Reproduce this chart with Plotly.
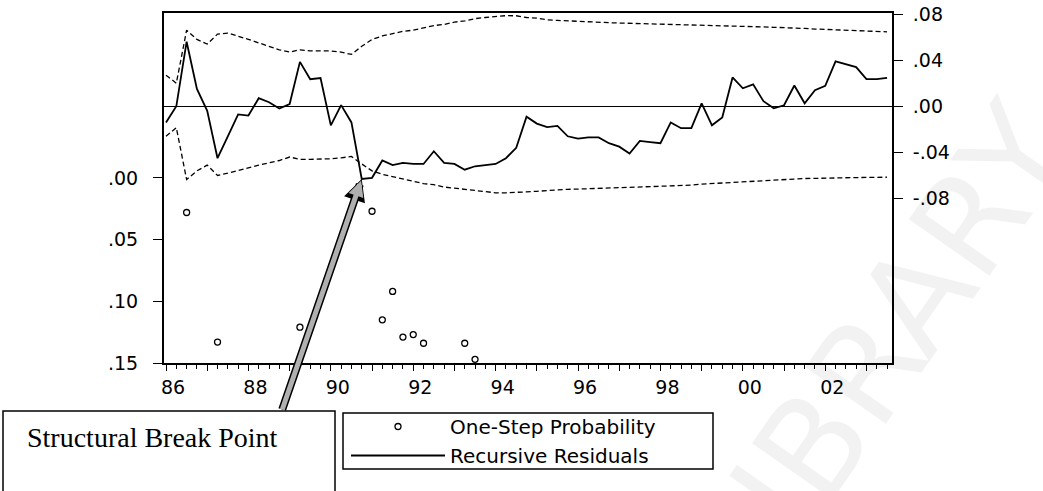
import plotly.graph_objects as go

# ---------------- data ----------------
n_obs = 71
quarters = [1986 + 0.25 * k for k in range(n_obs)]   # 1986Q1 ... 2003Q3

recursive_residuals = [
    -0.014, 0.000, 0.056, 0.015, -0.004, -0.045, -0.026, -0.007, -0.008, 0.007,
    0.0035, -0.002, 0.002, 0.0385, 0.0235, 0.0245, -0.0165, 0.001, -0.014, -0.063,
    -0.062, -0.047, -0.051, -0.049, -0.050, -0.050, -0.039, -0.049, -0.050, -0.055,
    -0.052, -0.051, -0.050, -0.045, -0.036, -0.009, -0.015, -0.018, -0.017, -0.026,
    -0.028, -0.027, -0.027, -0.032, -0.035, -0.041, -0.030, -0.031, -0.032, -0.014,
    -0.019, -0.019, 0.0026, -0.0165, -0.0096, 0.025, 0.0156, 0.019, 0.0044, -0.0017,
    0.0009, 0.018, 0.0026, 0.014, 0.0177, 0.039, 0.0365, 0.034, 0.0235, 0.0235, 0.0246,
]

upper_band = [
    0.027, 0.020, 0.066, 0.058, 0.054, 0.0626, 0.0635, 0.061, 0.058, 0.055,
    0.052, 0.049, 0.047, 0.049, 0.048, 0.048, 0.048, 0.047, 0.045, 0.052,
    0.058, 0.061, 0.063, 0.065, 0.066, 0.068, 0.070, 0.071, 0.073, 0.074,
    0.076, 0.077, 0.078, 0.0786, 0.0785, 0.077, 0.0765, 0.075, 0.0745, 0.074,
    0.0735, 0.073, 0.0728, 0.0725, 0.0722, 0.072, 0.0718, 0.0715, 0.0713, 0.071,
    0.0708, 0.0707, 0.0705, 0.0703, 0.070, 0.0698, 0.0695, 0.069, 0.0688, 0.0685,
    0.0683, 0.068, 0.0675, 0.067, 0.0667, 0.0664, 0.066, 0.0655, 0.065, 0.0648, 0.0646,
]

lower_band = [
    -0.026, -0.0185, -0.0635, -0.056, -0.051, -0.060, -0.058, -0.0555, -0.053, -0.051,
    -0.049, -0.047, -0.044, -0.046, -0.046, -0.046, -0.0455, -0.0447, -0.0435, -0.050,
    -0.056, -0.059, -0.061, -0.063, -0.065, -0.067, -0.068, -0.070, -0.071, -0.072,
    -0.073, -0.074, -0.075, -0.075, -0.0748, -0.0742, -0.0737, -0.073, -0.0725, -0.072,
    -0.0718, -0.0715, -0.0712, -0.071, -0.0707, -0.0703, -0.070, -0.0697, -0.0693, -0.069,
    -0.0687, -0.0684, -0.0675, -0.067, -0.066, -0.0655, -0.065, -0.0645, -0.064, -0.0635,
    -0.063, -0.063, -0.0626, -0.0625, -0.0622, -0.062, -0.062, -0.0618, -0.0617, -0.0616, -0.0615,
]

prob_obs_index = [2, 5, 13, 20, 21, 22, 23, 24, 25, 29, 30]
one_step_probability = [0.028, 0.133, 0.121, 0.027, 0.115, 0.092, 0.129, 0.127, 0.134, 0.134, 0.147]

break_index = 19  # 1990Q4

x_tick_years = list(range(1986, 2004))
x_tick_text = [f"{y % 100:02d}" if y % 2 == 0 else "" for y in x_tick_years]
left_tick_vals = [0.0, 0.05, 0.10, 0.15]
left_tick_text = [".00", ".05", ".10", ".15"]
right_tick_vals = [0.08, 0.04, 0.0, -0.04, -0.08]
right_tick_text = [".08", ".04", ".00", "-.04", "-.08"]

# ---------------- figure ----------------
W, H = 1043, 491
ML, MR, MT, MB = 164, 151, 13, 128
PW, PH = W - ML - MR, H - MT - MB


def px(xp):
    return (xp - ML) / PW


def py(yp):
    return (H - MB - yp) / PH


fig = go.Figure()

dash_style = dict(color="black", width=1.3, dash="5px,3px")
fig.add_trace(go.Scatter(x=quarters, y=upper_band, yaxis="y2", mode="lines",
                         line=dash_style, showlegend=False, hoverinfo="skip"))
fig.add_trace(go.Scatter(x=quarters, y=lower_band, yaxis="y2", mode="lines",
                         line=dash_style, showlegend=False, hoverinfo="skip"))
fig.add_trace(go.Scatter(x=quarters, y=recursive_residuals, yaxis="y2", mode="lines",
                         line=dict(color="black", width=1.8),
                         name="Recursive Residuals", legendrank=2))
fig.add_trace(go.Scatter(x=[quarters[i] for i in prob_obs_index], y=one_step_probability,
                         yaxis="y", mode="markers",
                         marker=dict(symbol="circle-open", size=6, color="black",
                                     line=dict(width=1.3, color="black")),
                         name="One-Step Probability", legendrank=1))

tick_font = dict(family="DejaVu Sans", size=19, color="black")

fig.update_layout(
    width=W, height=H,
    margin=dict(l=ML, r=MR, t=MT, b=MB, pad=0, autoexpand=False),
    paper_bgcolor="white", plot_bgcolor="white",
    font=dict(family="DejaVu Sans", color="black"),
    xaxis=dict(
        range=[1985.951, 2003.62], automargin=False,
        tickmode="array", tickvals=x_tick_years, ticktext=x_tick_text,
        ticks="outside", ticklen=6, tickwidth=1.3, tickcolor="black",
        minor=dict(tickmode="linear", tick0=1986, dtick=0.25, ticks="outside",
                   ticklen=4, tickwidth=1, tickcolor="black", showgrid=False),
        ticklabelshift=7, ticklabelstandoff=0,
        showline=True, linewidth=2, linecolor="black", mirror=True,
        showgrid=False, zeroline=False, tickfont=tick_font,
    ),
    yaxis=dict(
        range=[0.15, -0.1337], automargin=False,
        tickmode="array", tickvals=left_tick_vals, ticktext=left_tick_text,
        ticks="outside", ticklen=9, tickwidth=1.3, tickcolor="black",
        ticklabelstandoff=11,
        showline=True, linewidth=2, linecolor="black",
        showgrid=False, zeroline=False, tickfont=tick_font,
    ),
    yaxis2=dict(
        overlaying="y", side="right", automargin=False,
        range=[-0.2226, 0.0809],
        tickmode="array", tickvals=right_tick_vals, ticktext=right_tick_text,
        ticks="outside", ticklen=9, tickwidth=1.3, tickcolor="black",
        ticklabelstandoff=6,
        showline=True, linewidth=2, linecolor="black",
        showgrid=False, zeroline=True, zerolinecolor="black", zerolinewidth=1.4,
        tickfont=tick_font,
    ),
    legend=dict(
        x=px(346), y=py(407), xanchor="left", yanchor="top",
        bgcolor="rgba(0,0,0,0)", borderwidth=0,
        font=dict(family="DejaVu Sans", size=20, color="black"),
        itemwidth=94, tracegroupgap=0, traceorder="normal",
    ),
    showlegend=True,
)

# legend frame and text box frame
fig.add_shape(type="rect", xref="paper", yref="paper",
              x0=px(343), x1=px(713), y0=py(413), y1=py(469),
              line=dict(color="black", width=1.5), fillcolor="rgba(0,0,0,0)")
fig.add_shape(type="rect", xref="paper", yref="paper",
              x0=px(3), x1=px(335), y0=py(411), y1=py(520),
              line=dict(color="black", width=1.5), fillcolor="white", layer="below")

fig.add_annotation(text="Structural Break Point", xref="paper", yref="paper",
                   x=px(25), y=py(438), xanchor="left", yanchor="middle",
                   showarrow=False,
                   font=dict(family="Liberation Serif", size=28, color="black"))

# arrow pointing at the break point (outline + grey fill)
tip_x, tip_y = quarters[break_index], recursive_residuals[break_index]
fig.add_annotation(x=tip_x, y=tip_y, xref="x", yref="y2", text="",
                   showarrow=True, axref="pixel", ayref="pixel", ax=-80, ay=232,
                   arrowhead=2, arrowsize=0.55, arrowwidth=8, arrowcolor="black")
fig.add_annotation(x=tip_x, y=tip_y, xref="x", yref="y2", text="",
                   showarrow=True, axref="pixel", ayref="pixel", ax=-80, ay=232,
                   arrowhead=2, arrowsize=0.62, arrowwidth=5, arrowcolor="#b0b0b0",
                   standoff=2)

# faint watermark from the scanned source (outside the plot, lower right)
fig.add_annotation(text="LIBRARY", xref="paper", yref="paper",
                   x=px(880), y=py(350), xanchor="center", yanchor="middle",
                   showarrow=False, textangle=-55,
                   font=dict(family="DejaVu Sans", size=135, color="rgba(0,0,0,0.05)"))

fig.write_html("out.html")
